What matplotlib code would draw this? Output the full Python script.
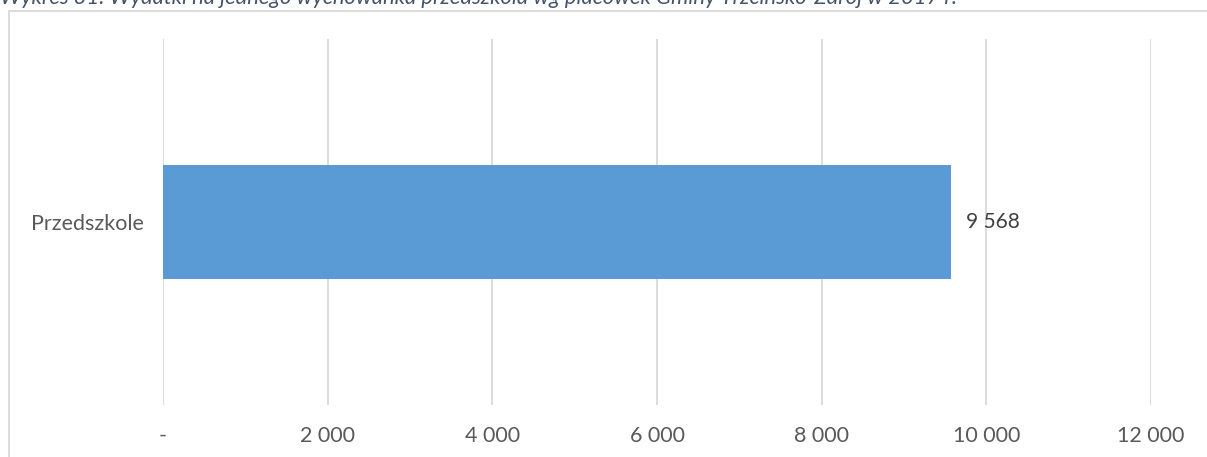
import matplotlib
matplotlib.use('Agg')
import matplotlib.pyplot as plt
from matplotlib.patches import Rectangle
from matplotlib.ticker import FuncFormatter

plt.rcParams['font.family'] = ['Lato', 'DejaVu Sans']

# data
categories = ['Przedszkole']
values = [9568]
ticks = [0, 2000, 4000, 6000, 8000, 10000, 12000]
title = 'Wykres 31. Wydatki na jednego wychowanka przedszkola wg placówek Gminy Trzcińsko-Zdrój w 2017 r.'

W, H = 1207, 457
fig = plt.figure(figsize=(W / 100, H / 100), dpi=100)

# outer chart frame (bottom runs off the image)
fig.patches.append(Rectangle((8.5 / W, -0.1), (W + 5) / W, 1 - 10.5 / H + 0.1,
                             transform=fig.transFigure, fill=False,
                             edgecolor='#D9D9D9', linewidth=1.3))

fig.text(0.0, 1 - 4 / H, title, ha='left', va='baseline', fontsize=15.8,
         style='italic', color='#44546A')

ax = fig.add_axes([163 / W, 1 - 405 / H, (1151 - 163) / W, (405 - 39) / H])
ax.barh(categories, values, height=0.31, color='#5B9BD5')
ax.set_xlim(0, 12000)
ax.set_ylim(-0.5, 0.5)
ax.set_xticks(ticks)

def fmt(v, pos):
    if v == 0:
        return '-'
    return f'{int(v):,}'.replace(',', ' ')

ax.xaxis.set_major_formatter(FuncFormatter(fmt))
ax.grid(axis='x', color='#D9D9D9', linewidth=1.3)
ax.set_axisbelow(True)
for s in ax.spines.values():
    s.set_visible(False)
ax.tick_params(axis='x', length=0, pad=15, labelsize=15.5, labelcolor='#595959')
ax.tick_params(axis='y', length=0, pad=14, labelsize=15.5, labelcolor='#595959')

for i, v in enumerate(values):
    ax.text(v + 180, i, fmt(v, None), va='center', ha='left',
            fontsize=15, color='#404040')

fig.savefig('out.png', dpi=100)
